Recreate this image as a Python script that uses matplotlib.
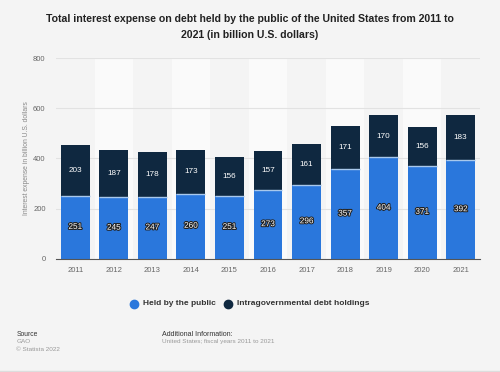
import matplotlib.pyplot as plt
import matplotlib.patheffects as pe
import numpy as np

years = ["2011", "2012", "2013", "2014", "2015", "2016", "2017", "2018", "2019", "2020", "2021"]
held_by_public = [251, 245, 247, 260, 251, 273, 296, 357, 404, 371, 392]
intragov = [203, 187, 178, 173, 156, 157, 161, 171, 170, 156, 183]

BG = "#f4f4f4"
BLUE = "#2a77dc"
NAVY = "#0f2840"

plt.rcParams["font.family"] = ["Liberation Sans", "DejaVu Sans"]

fig = plt.figure(figsize=(5.0, 3.72), dpi=100, facecolor=BG)
ax = fig.add_axes([0.112, 0.304, 0.848, 0.54])
ax.set_facecolor(BG)

x = np.arange(len(years))

# alternating column bands
for i in x:
    if i % 2 == 1:
        ax.axvspan(i - 0.5, i + 0.5, color="#fafafa", zorder=0, lw=0)

bw = 0.75
ax.bar(x, held_by_public, bw, color=BLUE, zorder=3, label="Held by the public")
ax.bar(x, intragov, bw, bottom=held_by_public, color=NAVY, zorder=3,
       label="Intragovernmental debt holdings")
# thin light separator between segments
ax.hlines(held_by_public, x - bw / 2, x + bw / 2, colors="#a8c8ec", lw=1.0, zorder=4)

outline = [pe.withStroke(linewidth=1.5, foreground="#222222")]
for xi, p, g in zip(x, held_by_public, intragov):
    ax.text(xi, p / 2, str(p), ha="center", va="center", color="white",
            fontsize=5.9, zorder=5, path_effects=outline)
    ax.text(xi, p + g / 2, str(g), ha="center", va="center", color="white",
            fontsize=5.9, zorder=5)

ax.set_xlim(-0.5, len(years) - 0.5)
ax.set_ylim(0, 800)
ax.set_yticks([0, 200, 400, 600, 800])
ax.set_xticks(x)
ax.set_xticklabels(years)
ax.yaxis.grid(True, color="#e2e2e2", lw=0.8, zorder=1)
ax.set_axisbelow(True)
for s in ["top", "right", "left"]:
    ax.spines[s].set_visible(False)
ax.spines["bottom"].set_color("#555555")
ax.spines["bottom"].set_linewidth(0.8)
ax.spines["bottom"].set_zorder(6)
ax.tick_params(axis="both", length=0, labelsize=5.5, colors="#666666", pad=6)
ax.tick_params(axis="y", pad=7.5)
ax.set_ylabel("Interest expense in billion U.S. dollars", fontsize=4.9,
              color="#888888", labelpad=2)

fig.text(0.5, 0.962, "Total interest expense on debt held by the public of the United States from 2011 to\n2021 (in billion U.S. dollars)",
         ha="center", va="top", fontsize=7.6, fontweight="bold", color="#222222",
         linespacing=1.75)

leg = fig.legend(loc="center", bbox_to_anchor=(0.5, 0.185), ncol=2, frameon=False,
                 fontsize=6.0, handlelength=0.9, handleheight=0.9, columnspacing=1.0,
                 handletextpad=0.6)
for h in leg.legend_handles:
    h.set_visible(False)
for t in leg.get_texts():
    t.set_fontweight("bold")
    t.set_color("#333333")
# round markers drawn in figure space next to legend text
fig.canvas.draw()
renderer = fig.canvas.get_renderer()
inv = fig.transFigure.inverted()
for t, col in zip(leg.get_texts(), [BLUE, NAVY]):
    bb = t.get_window_extent(renderer)
    (x0, y0), (x1, y1) = inv.transform([[bb.x0, bb.y0], [bb.x1, bb.y1]])
    fig.add_artist(plt.Line2D([x0 - 0.018], [(y0 + y1) / 2], marker="o", markersize=6,
                              color=col, transform=fig.transFigure, lw=0))

fig.text(0.033, 0.098, "Source", fontsize=4.9, color="#333333")
fig.text(0.033, 0.077, "GAO", fontsize=4.6, color="#999999")
fig.text(0.033, 0.056, "© Statista 2022", fontsize=4.6, color="#999999")
fig.text(0.325, 0.098, "Additional Information:", fontsize=5.1, color="#333333")
fig.text(0.325, 0.077, "United States; fiscal years 2011 to 2021", fontsize=4.6, color="#999999")

fig.add_artist(plt.Line2D([0, 1], [0.004, 0.004], color="#dddddd", lw=1, transform=fig.transFigure))

fig.savefig("out.png", dpi=100, facecolor=BG)
